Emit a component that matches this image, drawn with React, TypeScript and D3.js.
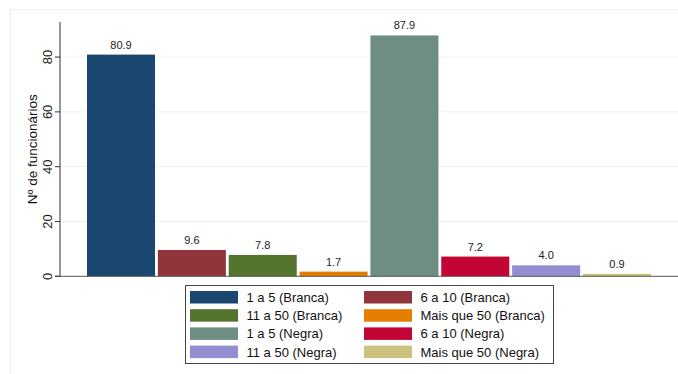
import React from "react";
import * as d3 from "d3";

const categories = [
  "1 a 5 (Branca)",
  "6 a 10 (Branca)",
  "11 a 50 (Branca)",
  "Mais que 50 (Branca)",
  "1 a 5 (Negra)",
  "6 a 10 (Negra)",
  "11 a 50 (Negra)",
  "Mais que 50 (Negra)",
];
const values = [80.9, 9.6, 7.8, 1.7, 87.9, 7.2, 4.0, 0.9];
const colors = [
  "#1a476f",
  "#90353b",
  "#55752f",
  "#e37e00",
  "#6e8e84",
  "#c10534",
  "#938dd2",
  "#cac27e",
];
const yTicks = [0, 20, 40, 60, 80];
const yTitle = "Nº de funcionários";

const W = 678;
const H = 374;
const FONT = "'Liberation Sans', Arial, sans-serif";

export default function App() {
  const x = d3.scaleBand<string>().domain(categories).range([87, 651]).paddingInner(0.04).paddingOuter(0);
  const y = d3.scaleLinear().domain([0, 92.8]).range([276.3, 22]);
  const plotLeft = 60;
  const plotRight = 678;

  const legendX = 185;
  const legendY = 285;
  const legendW = 368;
  const legendH = 78;
  const colX = [190, 364];
  const rowY0 = 291;
  const rowPitch = 18.2;

  return (
    <div style={{ position: "fixed", left: 0, top: 0 }}>
      <svg width={W} height={H} style={{ display: "block", background: "#fff" }}>
        {/* outer graph region frame */}
        <rect x={10.5} y={9.5} width={700} height={400} fill="#ffffff" stroke="#eaf0f2" strokeWidth={1} />

        {/* horizontal gridlines */}
        {yTicks.filter((t) => t > 0).map((t) => (
          <line key={"g" + t} x1={plotLeft} x2={plotRight} y1={y(t)} y2={y(t)} stroke="#eaf2f3" strokeWidth={1} />
        ))}

        {/* bars */}
        {categories.map((c, i) => (
          <rect
            key={c}
            x={x(c)}
            y={y(values[i])}
            width={x.bandwidth()}
            height={y(0) - y(values[i])}
            fill={colors[i]}
          />
        ))}

        {/* value labels */}
        {categories.map((c, i) => (
          <text
            key={"v" + c}
            x={(x(c) as number) + x.bandwidth() / 2}
            y={y(values[i]) - 6}
            textAnchor="middle"
            fontFamily={FONT}
            fontSize={11}
            fill="#222"
          >
            {values[i].toFixed(1)}
          </text>
        ))}

        {/* y axis */}
        <line x1={plotLeft} x2={plotLeft} y1={y.range()[1]} y2={y(0)} stroke="#333" strokeWidth={1} />
        <line x1={55} x2={plotRight} y1={y(0)} y2={y(0)} stroke="#555" strokeWidth={1} />
        {yTicks.map((t) => (
          <g key={"t" + t}>
            <line x1={55} x2={plotLeft} y1={y(t)} y2={y(t)} stroke="#333" strokeWidth={1} />
            <text
              transform={`translate(51.5,${y(t)}) rotate(-90)`}
              textAnchor="middle"
              fontFamily={FONT}
              fontSize={13}
              fill="#222"
            >
              {t}
            </text>
          </g>
        ))}
        <text
          transform={`translate(37,${(y(0) + y.range()[1]) / 2}) rotate(-90)`}
          textAnchor="middle"
          fontFamily={FONT}
          fontSize={13.5}
          fill="#111"
        >
          {yTitle}
        </text>

        {/* legend */}
        <rect x={legendX + 0.5} y={legendY + 0.5} width={legendW} height={legendH} fill="#fff" stroke="#444" strokeWidth={1} />
        {categories.map((c, i) => {
          const col = i % 2;
          const row = Math.floor(i / 2);
          const sy = rowY0 + row * rowPitch;
          return (
            <g key={"l" + c}>
              <rect x={colX[col]} y={sy} width={48} height={12.5} fill={colors[i]} />
              <text x={colX[col] + 56.5} y={sy + 11} fontFamily={FONT} fontSize={13} fill="#111">
                {c}
              </text>
            </g>
          );
        })}
      </svg>
    </div>
  );
}
